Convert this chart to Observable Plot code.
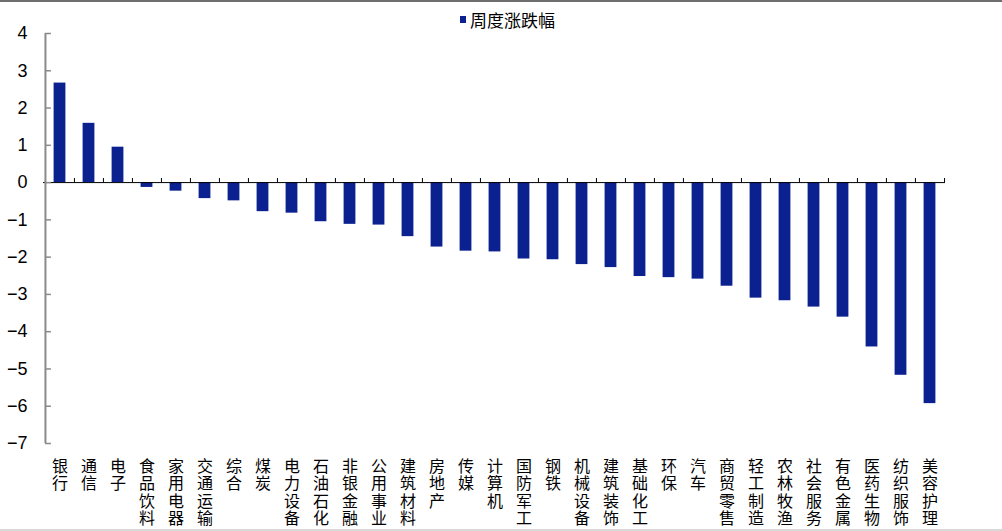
<!DOCTYPE html>
<html><head><meta charset="utf-8">
<script src="https://cdn.jsdelivr.net/npm/d3@7"></script>
<script src="https://cdn.jsdelivr.net/npm/@observablehq/plot@0.6"></script>
<style>
body{margin:0;background:#fff;}
#wrap{position:relative;width:1002px;height:531px;overflow:hidden;background:#fff;}
#topline{position:absolute;left:0;top:0;width:1002px;height:2px;background:#6e6e6e;}
#botline{position:absolute;left:0;top:529px;width:1002px;height:2px;background:#d8d8d8;}
#legend{position:absolute;top:7px;left:460px;font:17px "Noto Sans CJK SC";color:#000;display:flex;align-items:center;z-index:2;}
#legend span{display:inline-block;width:6px;height:7px;background:#0b2190;margin-right:4px;}
#chart{position:absolute;left:0;top:0;}
</style></head>
<body>
<div id="wrap">
  <div id="topline"></div>
  <div id="legend"><span></span>周度涨跌幅</div>
  <div id="chart"></div>
  <div id="botline"></div>
</div>
<script>
const seriesName = "周度涨跌幅";
const categories = ["银行","通信","电子","食品饮料","家用电器","交通运输","综合","煤炭","电力设备","石油石化","非银金融","公用事业","建筑材料","房地产","传媒","计算机","国防军工","钢铁","机械设备","建筑装饰","基础化工","环保","汽车","商贸零售","轻工制造","农林牧渔","社会服务","有色金属","医药生物","纺织服饰","美容护理"];
const values = [2.67,1.59,0.95,-0.13,-0.23,-0.43,-0.49,-0.78,-0.82,-1.05,-1.12,-1.14,-1.45,-1.73,-1.84,-1.86,-2.05,-2.07,-2.2,-2.28,-2.52,-2.55,-2.59,-2.78,-3.1,-3.17,-3.34,-3.61,-4.41,-5.17,-5.93];
const yTicks = [4,3,2,1,0,-1,-2,-3,-4,-5,-6,-7];

const data = categories.map((c, i) => ({category: c, value: values[i]}));
const W = 1002, H = 531, mL = 43, mR = 57, mT = 33, mB = 88;
const step = (W - mL - mR) / categories.length;
const barColor = "#0b2190";

const chart = Plot.plot({
  width: W, height: H,
  marginLeft: mL, marginRight: mR, marginTop: mT, marginBottom: mB,
  style: {background: "transparent", color: "#000"},
  x: {domain: categories, padding: 0, label: null},
  y: {domain: [-7, 4], label: null},
  marks: [
    Plot.barY(data, {x: "category", y: "value", fill: barColor, insetLeft: 8.6, insetRight: 8.6}),
    Plot.ruleY([0], {stroke: "#000", strokeWidth: 1}),
    Plot.ruleX(categories, {x: d => d, y1: 0, y2: 0.11, dx: -step / 2, stroke: "#000"}),
    Plot.ruleX([categories[categories.length - 1]], {x: d => d, y1: 0, y2: 0.11, dx: step / 2, stroke: "#000"}),
    Plot.ruleX([categories[0]], {x: d => d, y1: -7, y2: 4, dx: -step / 2, stroke: "#8a8a8a", strokeWidth: 2}),
    Plot.tickY(yTicks, {y: d => d, x: () => categories[0], insetRight: step - 6, stroke: "#8a8a8a", strokeWidth: 1.5}),
    Plot.axisY({ticks: yTicks, tickSize: 0, tickPadding: 16, fontSize: 18, fontFamily: "Liberation Sans", label: null}),
    Plot.axisX({tickSize: 0, tickPadding: 14, fontSize: 16, fontFamily: "Noto Sans CJK SC", label: null})
  ]
});
// render category labels vertically (one character per row), as in the reference
d3.select(chart).selectAll('g[aria-label="x-axis tick label"] text')
  .attr("y", null).attr("dy", null)
  .style("writing-mode", "vertical-rl")
  .style("text-orientation", "upright")
  .style("letter-spacing", "1.6px")
  .attr("text-anchor", "start");
document.getElementById("chart").appendChild(chart);
</script>
</body></html>
